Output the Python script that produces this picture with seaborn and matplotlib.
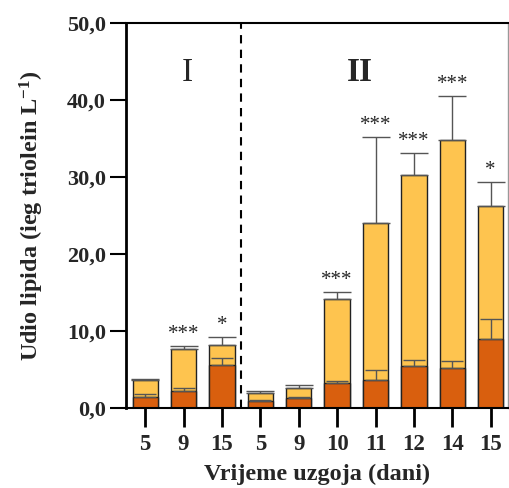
import matplotlib.pyplot as plt
import seaborn as sns
import pandas as pd

# Podaci (procijenjeni sa slike)
dani = ["5", "9", "15", "5", "9", "10", "11", "12", "14", "15"]
ukupno = [3.6, 7.7, 8.2, 1.9, 2.6, 14.2, 24.0, 30.3, 34.8, 26.2]
ukupno_sd = [0.2, 0.4, 1.0, 0.35, 0.35, 0.9, 11.2, 2.8, 5.7, 3.2]
dio = [1.4, 2.2, 5.6, 0.9, 1.3, 3.3, 3.6, 5.4, 5.2, 8.9]
dio_sd = [0.4, 0.35, 0.95, 0.1, 0.1, 0.2, 1.3, 0.8, 0.9, 2.7]
znacajnost = ["", "***", "*", "", "", "***", "***", "***", "***", "*"]
faze = ["I", "II"]
faze_x = [1.1, 5.6]

df = pd.DataFrame({"poz": range(len(dani)), "ukupno": ukupno, "dio": dio})

sns.set_style("ticks")
plt.rcParams["font.family"] = ["Liberation Serif", "DejaVu Serif"]
plt.rcParams["mathtext.default"] = "regular"

fig = plt.figure(figsize=(5.09, 4.88), dpi=100)
ax = fig.add_axes([126 / 509, 80 / 488, 382 / 509, 385 / 488])

sns.barplot(data=df, x="poz", y="ukupno", color="#FEC44F", width=0.66,
            edgecolor="#222222", linewidth=1, saturation=1, ax=ax)
sns.barplot(data=df, x="poz", y="dio", color="#D95F0E", width=0.66,
            edgecolor="#222222", linewidth=1, saturation=1, ax=ax)

ax.errorbar(df["poz"], ukupno, yerr=[[0] * len(dani), ukupno_sd], fmt="none",
            ecolor="#555555", elinewidth=1, capsize=10, capthick=1, zorder=1)
ax.errorbar(df["poz"], dio, yerr=[[0] * len(dani), dio_sd], fmt="none",
            ecolor="#555555", elinewidth=1, capsize=8, capthick=1, zorder=3)

for i, s in enumerate(znacajnost):
    if s:
        ax.annotate(s, (i, ukupno[i] + ukupno_sd[i]), xytext=(0, 7),
                    textcoords="offset pixels", ha="center", va="baseline",
                    fontsize=15, family="Liberation Serif")

for f, fx in zip(faze, faze_x):
    ax.text(fx, 43.6, f, ha="center", va="center", fontsize=24,
            fontweight="bold" if len(f) > 1 else "normal")

ax.axvline(2.5, color="black", linestyle=(0, (4, 3)), linewidth=1.5)

ax.set_xlim(-0.5, 9.45)
ax.set_ylim(0, 50)
ax.set_yticks([0, 10, 20, 30, 40, 50])
ax.set_yticklabels([f"{v:.1f}".replace(".", ",") for v in [0, 10, 20, 30, 40, 50]],
                   fontweight="bold", fontsize=16)
ax.set_xticks(range(len(dani)))
ax.set_xticklabels(dani, fontweight="bold", fontsize=16.5)
ax.tick_params(axis="y", direction="out", length=11.5, width=1.5, color="black", pad=3)
ax.tick_params(axis="x", direction="out", length=14, width=2, color="black", pad=5)

ax.set_xlabel("Vrijeme uzgoja (dani)", fontweight="bold", fontsize=17.5, labelpad=6)
ax.set_ylabel("Udio lipida (ieg triolein L$^{-1}$)", fontweight="bold",
              fontsize=17.5, labelpad=15)

for sp in ["left", "bottom", "top"]:
    ax.spines[sp].set_color("black")
    ax.spines[sp].set_linewidth(1.5)
ax.spines["left"].set_linewidth(2)
ax.spines["right"].set_color("#999999")
ax.spines["right"].set_linewidth(1)

fig.savefig("out.png", dpi=100)
